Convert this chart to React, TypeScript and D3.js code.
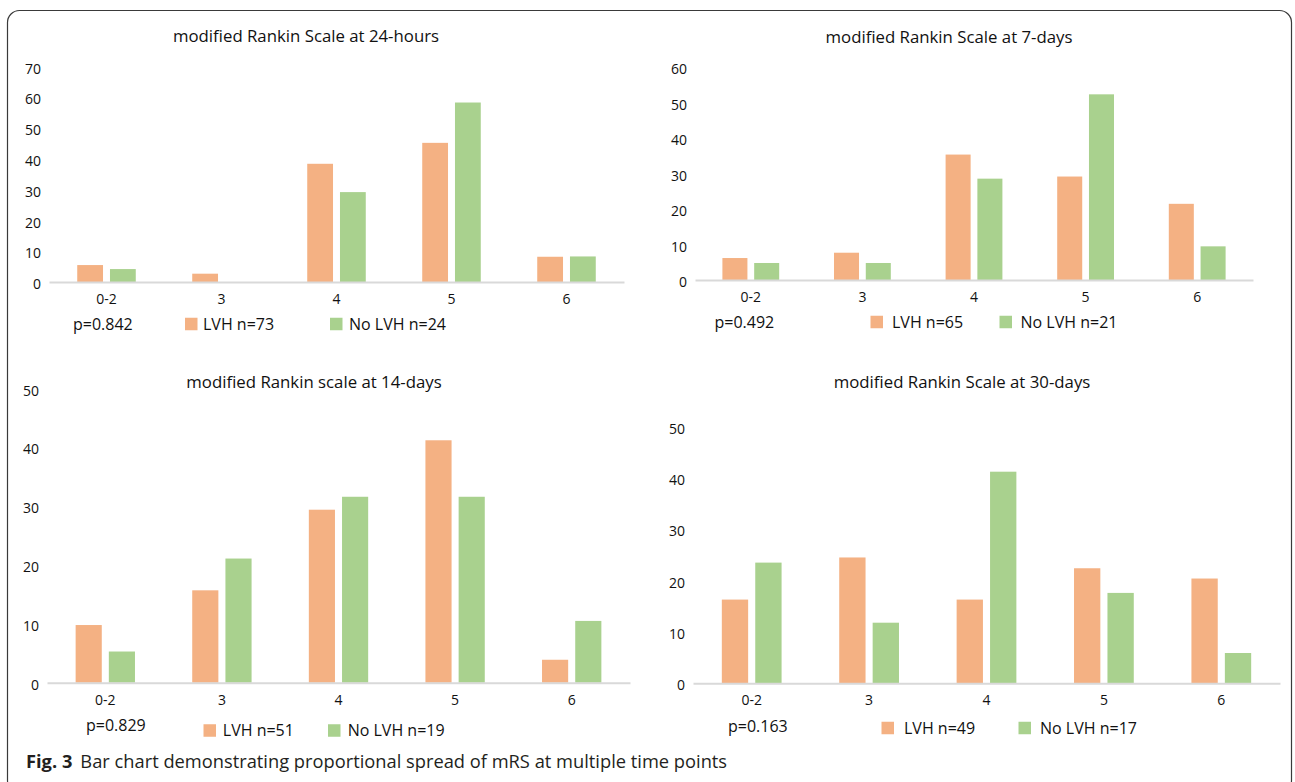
import { useEffect, useRef } from 'react';
import * as d3 from 'd3';

// mRS categories and the two groups
const categories = ['0-2', '3', '4', '5', '6'];
const seriesKeys = ['lvh', 'noLvh'];
const seriesColors = ['#F4B183', '#A9D18E'];

// proportions (%)
const lvh24h = [5.5, 2.7, 38.4, 45.2, 8.2];
const noLvh24h = [4.2, 0, 29.2, 58.3, 8.3];
const lvh7d = [6.2, 7.7, 35.4, 29.2, 21.5];
const noLvh7d = [4.8, 4.8, 28.6, 52.4, 9.5];
const lvh14d = [9.8, 15.7, 29.4, 41.2, 3.9];
const noLvh14d = [5.3, 21.1, 31.6, 31.6, 10.5];
const lvh30d = [16.3, 24.5, 16.3, 22.4, 20.4];
const noLvh30d = [23.5, 11.8, 41.2, 17.6, 5.9];

const titles = [
  'modified Rankin Scale at 24-hours',
  'modified Rankin Scale at 7-days',
  'modified Rankin scale at 14-days',
  'modified Rankin Scale at 30-days',
];
const pValues = ['p=0.842', 'p=0.492', 'p=0.829', 'p=0.163'];
const lvhLabels = ['LVH n=73', 'LVH n=65', 'LVH n=51', 'LVH n=49'];
const noLvhLabels = ['No LVH n=24', 'No LVH n=21', 'No LVH n=19', 'No LVH n=17'];
const yTicks24h = [0, 10, 20, 30, 40, 50, 60, 70];
const yTicks7d = [0, 10, 20, 30, 40, 50, 60];
const yTicks14d = [0, 10, 20, 30, 40, 50];
const yTicks30d = [0, 10, 20, 30, 40, 50];
const captionLabel = 'Fig. 3';
const captionText = 'Bar chart demonstrating proportional spread of mRS at multiple time points';

const panelData = [
  { lvh: lvh24h, noLvh: noLvh24h, ticks: yTicks24h },
  { lvh: lvh7d, noLvh: noLvh7d, ticks: yTicks7d },
  { lvh: lvh14d, noLvh: noLvh14d, ticks: yTicks14d },
  { lvh: lvh30d, noLvh: noLvh30d, ticks: yTicks30d },
];

// where each panel sits on the page
const layout = [
  { x0: 49, x1: 624, base: 282, top: 66.5, titleX: 306, titleY: 41.7, pX: 73, pY: 329.7, legY: 324, sq1: 185, t1: 203, sq2: 330, t2: 349 },
  { x0: 695, x1: 1253, base: 280, top: 67.4, titleX: 949, titleY: 42.7, pX: 714.5, pY: 327.7, legY: 322, sq1: 870.5, t1: 892, sq2: 999.5, t2: 1020.5 },
  { x0: 47, x1: 630, base: 682.7, top: 388.5, titleX: 314, titleY: 387.7, pX: 86, pY: 731.4, legY: 730.5, sq1: 203.5, t1: 222.8, sq2: 328, t2: 347.7 },
  { x0: 693, x1: 1280, base: 683.3, top: 426.5, titleX: 962, titleY: 387.7, pX: 728, pY: 732.4, legY: 728, sq1: 881.5, t1: 904, sq2: 1018.5, t2: 1040 },
];

const W = 1295;
const H = 782;
const FONT = '"Open Sans", sans-serif';

export default function App() {
  const svgRef = useRef<SVGSVGElement>(null);

  useEffect(() => {
    const svg = d3.select(svgRef.current);
    svg.selectAll('*').remove();

    svg.append('rect')
      .attr('width', W)
      .attr('height', H)
      .attr('fill', '#fff');

    // outer frame
    svg.append('rect')
      .attr('x', 7.5)
      .attr('y', 10.5)
      .attr('width', 1284)
      .attr('height', 782)
      .attr('rx', 12)
      .attr('fill', 'none')
      .attr('stroke', '#3a3a3a')
      .attr('stroke-width', 1.2);

    panelData.forEach((pd, i) => {
      const L = layout[i];
      const g = svg.append('g').style('font-family', FONT);

      const x = d3.scaleBand<string>()
        .domain(categories)
        .range([L.x0, L.x1]);

      // excel-like gap width 219%, overlap -27%
      const xs = d3.scaleBand<string>()
        .domain(seriesKeys)
        .range([0, x.bandwidth()])
        .paddingInner(0.27 / 1.27)
        .paddingOuter(1.095 / 1.27);

      const y = d3.scaleLinear()
        .domain([0, d3.max(pd.ticks) as number])
        .range([L.base, L.top]);

      // title
      g.append('text')
        .attr('x', L.titleX)
        .attr('y', L.titleY)
        .attr('text-anchor', 'middle')
        .style('font-size', '16.8px')
        .style('fill', '#111')
        .text(titles[i]);

      // bars
      const rows = categories.map((c, k) => ({ cat: c, lvh: pd.lvh[k], noLvh: pd.noLvh[k] }));
      seriesKeys.forEach((key, s) => {
        g.selectAll(`.bar-${key}`)
          .data(rows)
          .enter().append('rect')
          .attr('class', `bar-${key}`)
          .attr('x', d => (x(d.cat) as number) + (xs(key) as number))
          .attr('y', d => y((d as any)[key]))
          .attr('width', xs.bandwidth())
          .attr('height', d => L.base - y((d as any)[key]))
          .attr('fill', seriesColors[s]);
      });

      // y axis (labels only)
      const yAxis = g.append('g')
        .attr('transform', `translate(${L.x0},0)`)
        .call(d3.axisLeft(y).tickValues(pd.ticks).tickSize(0).tickPadding(8));
      yAxis.select('.domain').remove();
      yAxis.selectAll('text')
        .attr('dy', '0.47em')
        .style('font-family', FONT)
        .style('font-size', '14px')
        .style('fill', '#111');

      // x axis with light baseline
      const xAxis = g.append('g')
        .attr('transform', `translate(0,${L.base})`)
        .call(d3.axisBottom(x).tickSize(0).tickPadding(12));
      xAxis.select('.domain')
        .attr('stroke', '#D9D9D9')
        .attr('stroke-width', 2);
      xAxis.selectAll('text')
        .style('font-family', FONT)
        .style('font-size', '14px')
        .style('fill', '#111');

      // p value + legend
      g.append('text')
        .attr('x', L.pX)
        .attr('y', L.pY)
        .style('font-size', '16px')
        .style('fill', '#111')
        .text(pValues[i]);

      const legend = [
        { sq: L.sq1, tx: L.t1, label: lvhLabels[i], color: seriesColors[0] },
        { sq: L.sq2, tx: L.t2, label: noLvhLabels[i], color: seriesColors[1] },
      ];
      legend.forEach(item => {
        g.append('rect')
          .attr('x', item.sq)
          .attr('y', L.legY - 6.25)
          .attr('width', 12.5)
          .attr('height', 12.5)
          .attr('fill', item.color);
        g.append('text')
          .attr('x', item.tx)
          .attr('y', L.legY + 5.7)
          .style('font-size', '16px')
          .style('fill', '#111')
          .text(item.label);
      });
    });

    // figure caption
    const cap = svg.append('text')
      .attr('x', 26)
      .attr('y', 768.3)
      .style('font-family', FONT)
      .style('font-size', '18.3px')
      .style('fill', '#231F20');
    cap.append('tspan')
      .style('font-weight', 'bold')
      .text(captionLabel);
    cap.append('tspan')
      .attr('dx', 8)
      .text(captionText);
  }, []);

  return (
    <svg
      ref={svgRef}
      width={W}
      height={H}
      style={{ position: 'absolute', left: 0, top: 0, display: 'block' }}
    />
  );
}
